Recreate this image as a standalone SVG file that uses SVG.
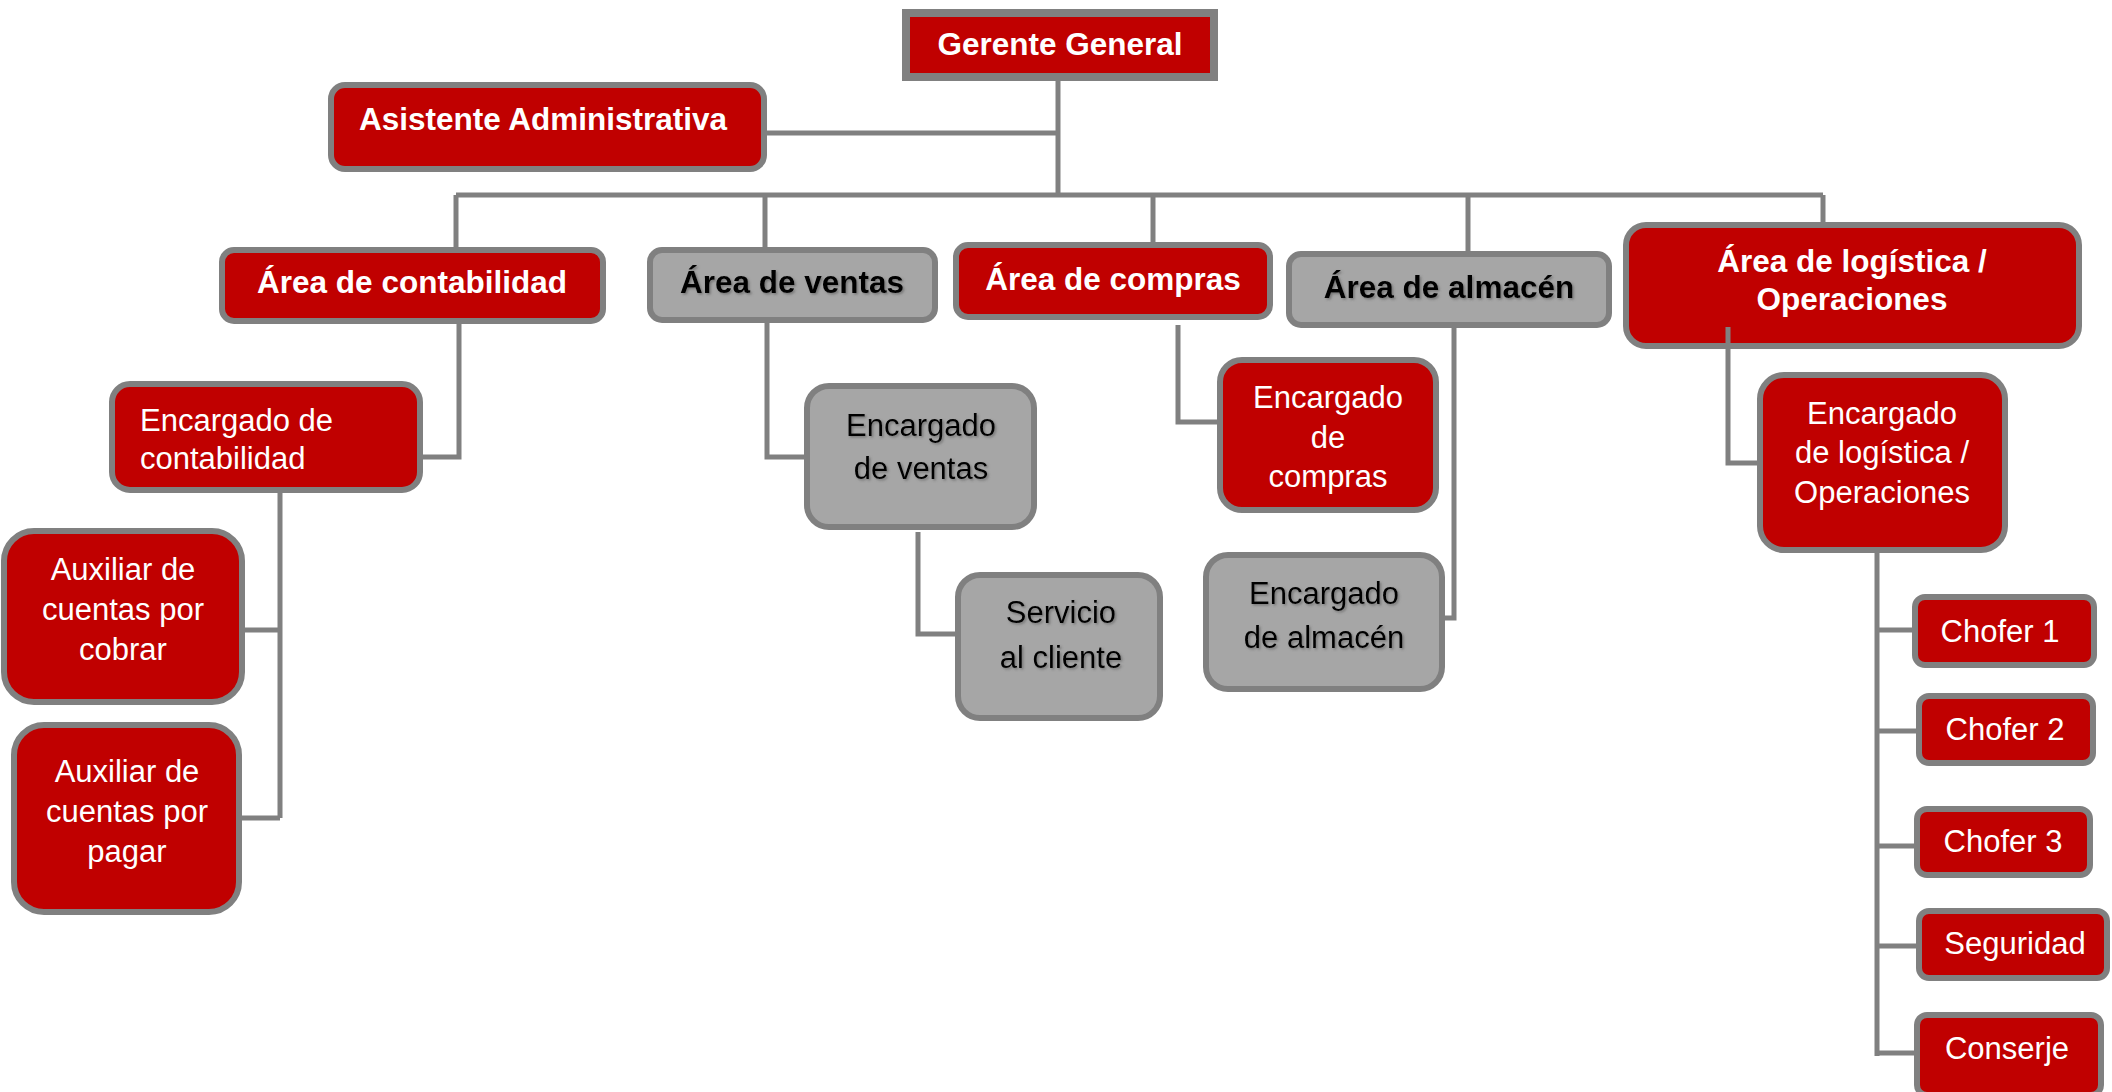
<svg xmlns="http://www.w3.org/2000/svg" width="2112" height="1092" viewBox="0 0 2112 1092">
<defs>
<style>
.red{fill:#c00000;stroke:#808080;stroke-width:6}
.gray{fill:#a6a6a6;stroke:#808080;stroke-width:6}
.sq{fill:#c00000;stroke:#808080;stroke-width:8}
.tb{font-family:"Liberation Sans",Arial,sans-serif;font-weight:bold;font-size:31.5px;fill:#ffffff;text-anchor:middle}
.tbk{font-family:"Liberation Sans",Arial,sans-serif;font-weight:bold;font-size:31.5px;fill:#000000;text-anchor:middle;filter:url(#sh)}
.tr{font-family:"Liberation Sans",Arial,sans-serif;font-size:31px;fill:#ffffff;text-anchor:middle}
.trk{font-family:"Liberation Sans",Arial,sans-serif;font-size:31px;fill:#000000;text-anchor:middle;filter:url(#sh)}
.conn path{fill:none;stroke:#808080;stroke-width:5}
</style>
<filter id="sh" x="-10%" y="-30%" width="120%" height="160%">
<feDropShadow dx="1.5" dy="1.5" stdDeviation="0.8" flood-color="#555555" flood-opacity="0.6"/>
</filter>
</defs>
<rect width="2112" height="1092" fill="#ffffff"/>

<g id="gerente-general">
<rect class="sq" x="906" y="13" width="308" height="64"/>
<text class="tb" x="1060" y="55">Gerente General</text>
</g>
<g id="asistente-administrativa">
<rect class="red" x="331" y="85" width="433" height="84" rx="14"/>
<text class="tb" x="543" y="130">Asistente Administrativa</text>
</g>
<g id="area-contabilidad">
<rect class="red" x="222" y="250" width="381" height="71" rx="12"/>
<text class="tb" x="412" y="293">Área de contabilidad</text>
</g>
<g id="area-ventas">
<rect class="gray" x="650" y="250" width="285" height="70" rx="12"/>
<text class="tbk" x="792" y="293">Área de ventas</text>
</g>
<g id="area-compras">
<rect class="red" x="956" y="245" width="314" height="72" rx="12"/>
<text class="tb" x="1113" y="290">Área de compras</text>
</g>
<g id="area-almacen">
<rect class="gray" x="1289" y="254" width="320" height="71" rx="12"/>
<text class="tbk" x="1449" y="298">Área de almacén</text>
</g>
<g id="area-logistica">
<rect class="red" x="1626" y="225" width="453" height="121" rx="20"/>
<text class="tb" x="1852" y="272">Área de logística /</text>
<text class="tb" x="1852" y="310">Operaciones</text>
</g>
<g id="encargado-contabilidad">
<rect class="red" x="112" y="384" width="308" height="106" rx="18"/>
<text class="tr" style="text-anchor:start" x="140" y="431">Encargado de</text>
<text class="tr" style="text-anchor:start" x="140" y="469">contabilidad</text>
</g>
<g id="auxiliar-cobrar">
<rect class="red" x="4" y="531" width="238" height="171" rx="30"/>
<text class="tr" x="123" y="580">Auxiliar de</text>
<text class="tr" x="123" y="620">cuentas por</text>
<text class="tr" x="123" y="660">cobrar</text>
</g>
<g id="auxiliar-pagar">
<rect class="red" x="14" y="725" width="225" height="187" rx="30"/>
<text class="tr" x="127" y="782">Auxiliar de</text>
<text class="tr" x="127" y="822">cuentas por</text>
<text class="tr" x="127" y="862">pagar</text>
</g>
<g id="encargado-ventas">
<rect class="gray" x="807" y="386" width="227" height="141" rx="22"/>
<text class="trk" x="921" y="436">Encargado</text>
<text class="trk" x="921" y="479">de ventas</text>
</g>
<g id="servicio-cliente">
<rect class="gray" x="958" y="575" width="202" height="143" rx="22"/>
<text class="trk" x="1061" y="623">Servicio</text>
<text class="trk" x="1061" y="668">al cliente</text>
</g>
<g id="encargado-compras">
<rect class="red" x="1220" y="360" width="216" height="150" rx="22"/>
<text class="tr" x="1328" y="408">Encargado</text>
<text class="tr" x="1328" y="448">de</text>
<text class="tr" x="1328" y="487">compras</text>
</g>
<g id="encargado-almacen">
<rect class="gray" x="1206" y="555" width="236" height="134" rx="22"/>
<text class="trk" x="1324" y="604">Encargado</text>
<text class="trk" x="1324" y="648">de almacén</text>
</g>
<g id="encargado-logistica">
<rect class="red" x="1760" y="375" width="245" height="175" rx="24"/>
<text class="tr" x="1882" y="424">Encargado</text>
<text class="tr" x="1882" y="463">de logística /</text>
<text class="tr" x="1882" y="503">Operaciones</text>
</g>
<g id="chofer-1">
<rect class="red" x="1915" y="597" width="179" height="68" rx="10"/>
<text class="tr" x="2000" y="642">Chofer 1</text>
</g>
<g id="chofer-2">
<rect class="red" x="1919" y="696" width="174" height="67" rx="10"/>
<text class="tr" x="2005" y="740">Chofer 2</text>
</g>
<g id="chofer-3">
<rect class="red" x="1917" y="809" width="173" height="66" rx="10"/>
<text class="tr" x="2003" y="852">Chofer 3</text>
</g>
<g id="seguridad">
<rect class="red" x="1919" y="911" width="188" height="67" rx="10"/>
<text class="tr" x="2015" y="954">Seguridad</text>
</g>
<g id="conserje">
<rect class="red" x="1917" y="1015" width="184" height="80" rx="10"/>
<text class="tr" x="2007" y="1059">Conserje</text>
</g>

<g id="connectors" class="conn">
<path d="M1058 81 V195"/>
<path d="M767 133 H1058"/>
<path d="M456 195 H1823"/>
<path d="M456 195 V247"/>
<path d="M765 195 V247"/>
<path d="M1153 195 V242"/>
<path d="M1468 195 V251"/>
<path d="M1823 195 V222"/>
<path d="M459 324 V457 H423"/>
<path d="M280 493 V818"/>
<path d="M280 630 H245"/>
<path d="M280 818 H242"/>
<path d="M767 323 V457 H804"/>
<path d="M918 532 V634 H955"/>
<path d="M1178 325 V422 H1217"/>
<path d="M1454 328 V618 H1445"/>
<path d="M1728 327 V463 H1757"/>
<path d="M1877 553 V1056"/>
<path d="M1877 630 H1912"/>
<path d="M1877 731 H1916"/>
<path d="M1877 846 H1914"/>
<path d="M1877 946 H1916"/>
<path d="M1877 1053 H1914"/>
</g>
</svg>
